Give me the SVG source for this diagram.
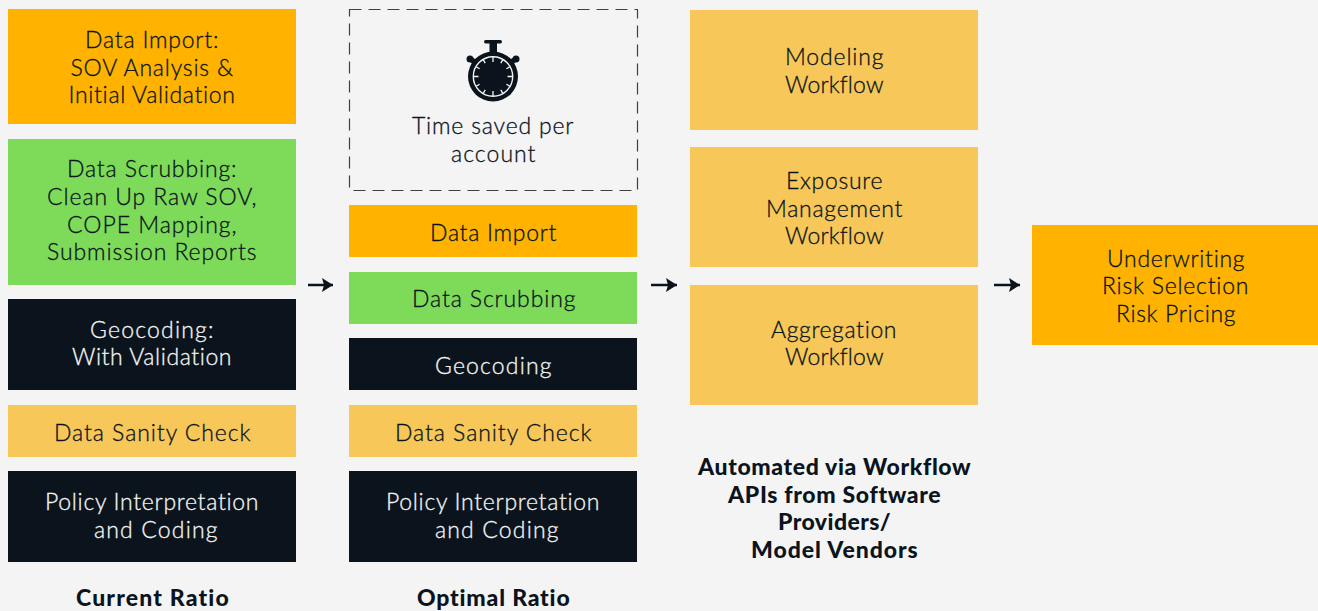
<svg xmlns="http://www.w3.org/2000/svg" width="1318" height="611" viewBox="0 0 1318 611">
<style>
text{font-family:"Lato","Liberation Sans",sans-serif;font-size:23px;font-weight:300;text-anchor:middle;fill:#0b141c;stroke:#0b141c;stroke-width:.3px;letter-spacing:.5px}
.w{fill:#f4f4f4;stroke:#f4f4f4}
.b{font-weight:900;font-size:23px;letter-spacing:.3px;stroke:none}
.o{fill:#ffb300}.g{fill:#7edb5a}.d{fill:#0b141c}.s{fill:#f7c759}
</style>
<defs><marker id="a" markerUnits="userSpaceOnUse" markerWidth="12" markerHeight="14" refX="11" refY="7" orient="auto"><path d="M0 0L11 7L0 14L2 7Z" fill="#0b141c"/></marker></defs>
<rect width="1318" height="611" fill="#f4f4f4"/>
<g id="connectors" fill="none" stroke="#0b141c" stroke-width="2.5">
<path d="M308 285H333" marker-end="url(#a)"/>
<path d="M651 285H677" marker-end="url(#a)"/>
<path d="M994 285H1020" marker-end="url(#a)"/>
</g>
<g id="n1"><rect class="o" x="8" y="9" width="288" height="115"/><text x="152" y="48" textLength="134">Data Import:</text><text x="152" y="76" textLength="163">SOV Analysis &amp;</text><text x="152" y="103" textLength="167">Initial Validation</text></g>
<g id="n2"><rect class="g" x="8" y="139" width="288" height="146"/><text x="152" y="177" textLength="170">Data Scrubbing:</text><text x="152" y="205" textLength="210">Clean Up Raw SOV,</text><text x="152" y="233" textLength="170">COPE Mapping,</text><text x="152" y="260" textLength="210">Submission Reports</text></g>
<g id="n3"><rect class="d" x="8" y="299" width="288" height="91"/><text class="w" x="152" y="338" textLength="124">Geocoding:</text><text class="w" x="152" y="365" textLength="160">With Validation</text></g>
<g id="n4"><rect class="s" x="8" y="405" width="288" height="52"/><text x="152.500" y="441" textLength="197">Data Sanity Check</text></g>
<g id="n5"><rect class="d" x="8" y="471" width="288" height="91"/><text class="w" x="152" y="510" textLength="214">Policy Interpretation</text><text class="w" x="156" y="538" textLength="124">and Coding</text></g>
<g id="l1"><text class="b" x="152.500" y="606" textLength="153">Current Ratio</text></g>
<g id="n6"><rect x="349.500" y="9.500" width="288" height="181" fill="none" stroke="#0b141c" stroke-opacity=".8" stroke-width="1.200" stroke-dasharray="12 7"/>
<g id="stopwatch"><circle cx="493" cy="76.500" r="25" fill="#0b141c"/><circle cx="493" cy="76.500" r="19.700" fill="none" stroke="#f4f4f4" stroke-width="1.400"/><rect x="489.500" y="43" width="7.500" height="10" fill="#0b141c"/><rect x="484" y="40" width="18" height="3.500" rx="1.700" fill="#0b141c"/><path d="M475 62l-5-3M511 62l5-3" stroke="#0b141c" stroke-width="5"/><circle cx="470" cy="59" r="3.500" fill="#0b141c"/><circle cx="516" cy="59" r="3.500" fill="#0b141c"/><path d="M493 57v5M493 91v5M473.500 76.500h5M507.500 76.500h5M483.200 59.600l2 3.500M502.800 59.600l-2 3.500M483.200 93.400l2-3.500M502.800 93.400l-2-3.500M476.100 66.700l3.500 2M509.900 66.700l-3.500 2M476.100 86.300l3.500-2M509.900 86.300l-3.500-2" stroke="#f4f4f4" stroke-width="1.300"/></g>
<text x="493" y="134" textLength="162">Time saved per</text><text x="493.500" y="162" textLength="85">account</text></g>
<g id="n7"><rect class="o" x="349" y="205" width="288" height="52"/><text x="493.500" y="241" textLength="127">Data Import</text></g>
<g id="n8"><rect class="g" x="349" y="272" width="288" height="52"/><text x="494" y="307" textLength="164">Data Scrubbing</text></g>
<g id="n9"><rect class="d" x="349" y="338" width="288" height="52"/><text class="w" x="493.500" y="374" textLength="117">Geocoding</text></g>
<g id="n10"><rect class="s" x="349" y="405" width="288" height="52"/><text x="493.500" y="441" textLength="197">Data Sanity Check</text></g>
<g id="n11"><rect class="d" x="349" y="471" width="288" height="91"/><text class="w" x="493" y="510" textLength="214">Policy Interpretation</text><text class="w" x="497" y="538" textLength="124">and Coding</text></g>
<g id="l2"><text class="b" x="493.500" y="606" textLength="153">Optimal Ratio</text></g>
<g id="n12"><rect class="s" x="690" y="10" width="288" height="120"/><text x="834.500" y="65" textLength="99">Modeling</text><text x="834.500" y="93" textLength="99">Workflow</text></g>
<g id="n13"><rect class="s" x="690" y="147" width="288" height="120"/><text x="834.500" y="189" textLength="97">Exposure</text><text x="834.500" y="217" textLength="137">Management</text><text x="834.500" y="244" textLength="99">Workflow</text></g>
<g id="n14"><rect class="s" x="690" y="285" width="288" height="120"/><text x="834" y="338" textLength="126">Aggregation</text><text x="834.500" y="365" textLength="99">Workflow</text></g>
<g id="l3"><text class="b" x="834.500" y="475" textLength="273">Automated via Workflow</text><text class="b" x="834.500" y="503" textLength="213">APIs from Software</text><text class="b" x="834.500" y="530" textLength="113">Providers/</text><text class="b" x="834.500" y="558" textLength="167">Model Vendors</text></g>
<g id="n15"><rect class="o" x="1032" y="225" width="286" height="120"/><text x="1176" y="267" textLength="138">Underwriting</text><text x="1175.500" y="294" textLength="147">Risk Selection</text><text x="1176" y="322" textLength="120">Risk Pricing</text></g>
</svg>
